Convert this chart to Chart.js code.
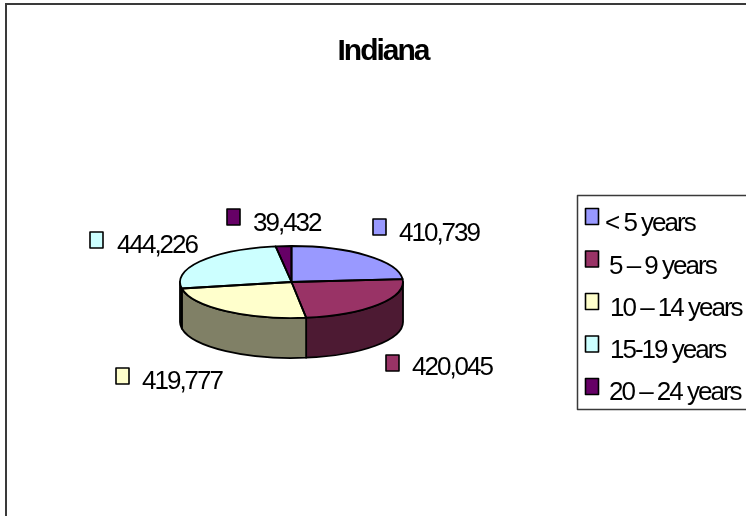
<!DOCTYPE html>
<html>
<head>
<meta charset="utf-8">
<style>html,body{margin:0;padding:0;background:#fff}canvas{display:block}</style>
<script src="https://cdn.jsdelivr.net/npm/chart.js@4"></script>
</head>
<body>
<canvas id="c" width="746" height="516"></canvas>
<script>
const chartTitle = 'Indiana';
const categories = ['< 5 years', '5 – 9 years', '10 – 14 years', '15-19 years', '20 – 24 years'];
const values = [410739, 420045, 419777, 444226, 39432];
const valueLabels = ['410,739', '420,045', '419,777', '444,226', '39,432'];
const topColors = ['#9999FF', '#993366', '#FFFFCC', '#CCFFFF', '#660066'];
const sideColors = ['#4C4C80', '#4D1A33', '#808066', '#668080', '#330033'];

const FONT = '"Liberation Sans", Arial, sans-serif';
const TILT = 36 / 111.5, DEPTH = 40;
const labelPos = [[373,219,399,241],[386,355,412,375],[116,368,142,389],[90,232,117,252.5],[227,209,253,230.5]];
const legendText = [[605,231],[609,274],[610,316],[610,358],[609,400]];

function swatch(ctx, x, y, color) {
  ctx.fillStyle = color; ctx.strokeStyle = '#000'; ctx.lineWidth = 1.6;
  ctx.fillRect(x, y, 13, 16); ctx.strokeRect(x, y, 13, 16);
}

const pie3d = {
  id: 'pie3d',
  afterLayout(chart) {
    const t = chart.titleBlock, w = t.right - t.left, cx = 383;
    t.left = cx - w / 2; t.right = cx + w / 2;
  },
  beforeDraw(chart) {
    const ctx = chart.ctx;
    ctx.letterSpacing = '-2px';
    ctx.strokeStyle = '#3a3a3a'; ctx.lineWidth = 2;
    ctx.beginPath(); ctx.moveTo(6, 516); ctx.lineTo(6, 4); ctx.lineTo(746, 4); ctx.stroke();
  },
  beforeDatasetsDraw(chart) {
    const ctx = chart.ctx, arcs = chart.getDatasetMeta(0).data;
    const {x, y, outerRadius: r} = arcs[0];
    const ry = r * TILT;
    arcs.forEach((a, i) => {
      const s = Math.max(a.startAngle, 0), e = Math.min(a.endAngle, Math.PI);
      if (e <= s) return;
      ctx.beginPath();
      ctx.ellipse(x, y, r, ry, 0, s, e);
      ctx.lineTo(x + r * Math.cos(e), y + ry * Math.sin(e) + DEPTH);
      ctx.ellipse(x, y + DEPTH, r, ry, 0, e, s, true);
      ctx.closePath();
      ctx.fillStyle = sideColors[i]; ctx.fill();
      ctx.strokeStyle = '#000'; ctx.lineWidth = 1.8; ctx.lineJoin = 'round'; ctx.stroke();
    });
    ctx.save();
    ctx.translate(x, y); ctx.scale(1, TILT); ctx.translate(-x, -y);
  },
  afterDatasetsDraw(chart) {
    const ctx = chart.ctx; ctx.restore();
    const arcs = chart.getDatasetMeta(0).data;
    arcs.forEach(a => {
      const ry = a.outerRadius * TILT;
      ctx.beginPath(); ctx.moveTo(a.x, a.y);
      ctx.ellipse(a.x, a.y, a.outerRadius, ry, 0, a.startAngle, a.endAngle);
      ctx.closePath();
      ctx.strokeStyle = '#000'; ctx.lineWidth = 1.8; ctx.lineJoin = 'round'; ctx.stroke();
    });
  },
  afterDraw(chart) {
    const ctx = chart.ctx;
    ctx.font = '26px ' + FONT; ctx.textAlign = 'left'; ctx.textBaseline = 'alphabetic';
    valueLabels.forEach((t, i) => {
      const p = labelPos[i];
      swatch(ctx, p[0], p[1], topColors[i]);
      ctx.fillStyle = '#000'; ctx.fillText(t, p[2], p[3]);
    });
    ctx.strokeStyle = '#3a3a3a'; ctx.lineWidth = 1.5;
    ctx.strokeRect(577.5, 195.5, 175, 214);
    categories.forEach((t, i) => {
      swatch(ctx, 585.5, 208.5 + i * 42.5, topColors[i]);
      ctx.fillStyle = '#000'; ctx.fillText(t, legendText[i][0], legendText[i][1]);
    });
  }
};

new Chart(document.getElementById('c'), {
  type: 'pie',
  plugins: [pie3d],
  data: { labels: categories, datasets: [{ data: values, backgroundColor: topColors, borderWidth: 0, radius: 111.5 }] },
  options: {
    responsive: false, animation: false, events: [],
    layout: { padding: { left: 0, right: 163, top: 0, bottom: 20 } },
    plugins: {
      legend: { display: false }, tooltip: { enabled: false },
      title: { display: true, text: chartTitle, color: '#000', padding: { top: 35, bottom: 0 },
               font: { family: FONT, size: 30, weight: 'bold', lineHeight: 1.1 } }
    }
  }
});
</script>
</body>
</html>
